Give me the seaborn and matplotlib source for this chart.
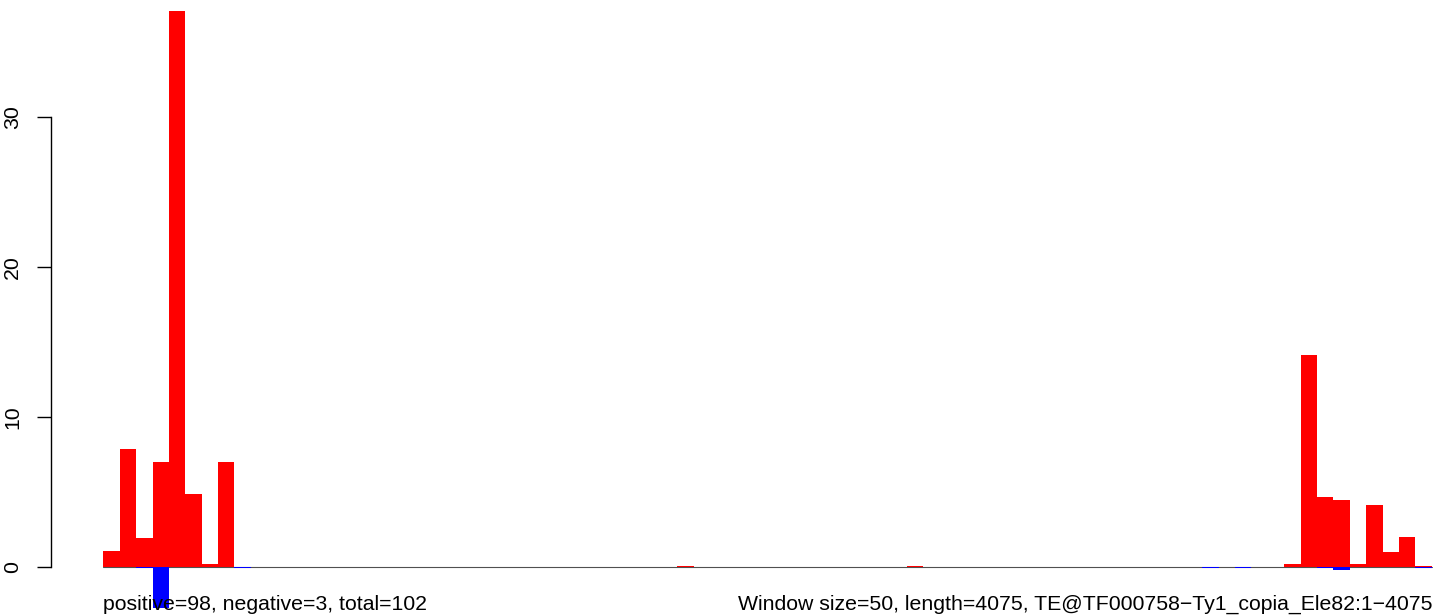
import numpy as np
import pandas as pd
import seaborn as sns
import matplotlib.pyplot as plt

# window counts along the TE (window size 50, 81 windows)
positive = [1.07, 7.87, 1.95, 7.0, 37.07, 4.87, 0.2, 7.0, 0, 0,
            0, 0, 0, 0, 0, 0, 0, 0, 0, 0,
            0, 0, 0, 0, 0, 0, 0, 0, 0, 0,
            0, 0, 0, 0, 0, 0.07, 0, 0, 0, 0,
            0, 0, 0, 0, 0, 0, 0, 0, 0, 0.07,
            0, 0, 0, 0, 0, 0, 0, 0, 0, 0,
            0, 0, 0, 0, 0, 0, 0, 0, 0, 0,
            0, 0, 0.2, 14.13, 4.69, 4.47, 0.2, 4.13, 1.02, 2.0,
            0.07]
negative = [0, 0, -0.07, -2.7, 0, 0, 0, 0, -0.07, 0,
            0, 0, 0, 0, 0, 0, 0, 0, 0, 0,
            0, 0, 0, 0, 0, 0, 0, 0, 0, 0,
            0, 0, 0, 0, 0, 0, 0, 0, 0, 0,
            0, 0, 0, 0, 0, 0, 0, 0, 0, 0,
            0, 0, 0, 0, 0, 0, 0, 0, 0, 0,
            0, 0, 0, 0, 0, 0, 0, -0.07, 0, -0.07,
            0, 0, 0, 0, -0.07, -0.22, 0, 0, 0, 0,
            -0.07]
yticks = [0, 10, 20, 30]
left_note = "positive=98, negative=3, total=102"
right_note = "Window size=50, length=4075, TE@TF000758\u2212Ty1_copia_Ele82:1\u22124075"

df = pd.DataFrame({"window": np.arange(len(positive)),
                   "positive": positive, "negative": negative})

sns.set_theme(style="white")
plt.rcParams["font.family"] = ["Liberation Sans", "DejaVu Sans"]

W, H = 1444, 615
fig = plt.figure(figsize=(W / 100, H / 100), dpi=100)
ax_left = 50.7
ax = fig.add_axes([ax_left / W, 0, (W - ax_left) / W, 1])

ax.plot([-0.5, len(positive) - 0.5], [0, 0], color="#505050", lw=0.8, zorder=0)
sns.barplot(data=df, x="window", y="positive", color="#ff0000", width=1,
            saturation=1, linewidth=0, ax=ax, zorder=2)
sns.barplot(data=df, x="window", y="negative", color="#0000ff", width=1,
            saturation=1, linewidth=0, ax=ax, zorder=3)

# pixel layout: first window starts at x=103.3, 16.4 px per window; y=0 at 567 px, 15 px per unit
bw = 16.4
ax.set_xlim(-0.5 - (103.3 - ax_left) / bw, -0.5 + (W - 103.3) / bw)
ax.set_ylim(-(H - 567) / 15, 567 / 15)

ax.set_xlabel("")
ax.set_ylabel("")
ax.set_xticks([])
ax.set_yticks(yticks)
ax.set_yticklabels([str(t) for t in yticks], rotation=90, va="center", fontsize=15.3)
ax.tick_params(axis="y", direction="out", length=9.9, width=1, pad=10.5,
               left=True, color="black", labelcolor="black")
for s in ["top", "right", "bottom"]:
    ax.spines[s].set_visible(False)
ax.spines["left"].set_bounds(0, 30)
ax.spines["left"].set_color("black")
ax.spines["left"].set_linewidth(1)
ax.patch.set_alpha(0)

fig.text(103.3 / W, (H - 610) / H, left_note, ha="left", va="baseline",
         fontsize=15.3, color="black", zorder=10)
fig.text(1432 / W, (H - 610) / H, right_note, ha="right", va="baseline",
         fontsize=15.3, color="black", zorder=10)

fig.savefig("out.png", dpi=100)
